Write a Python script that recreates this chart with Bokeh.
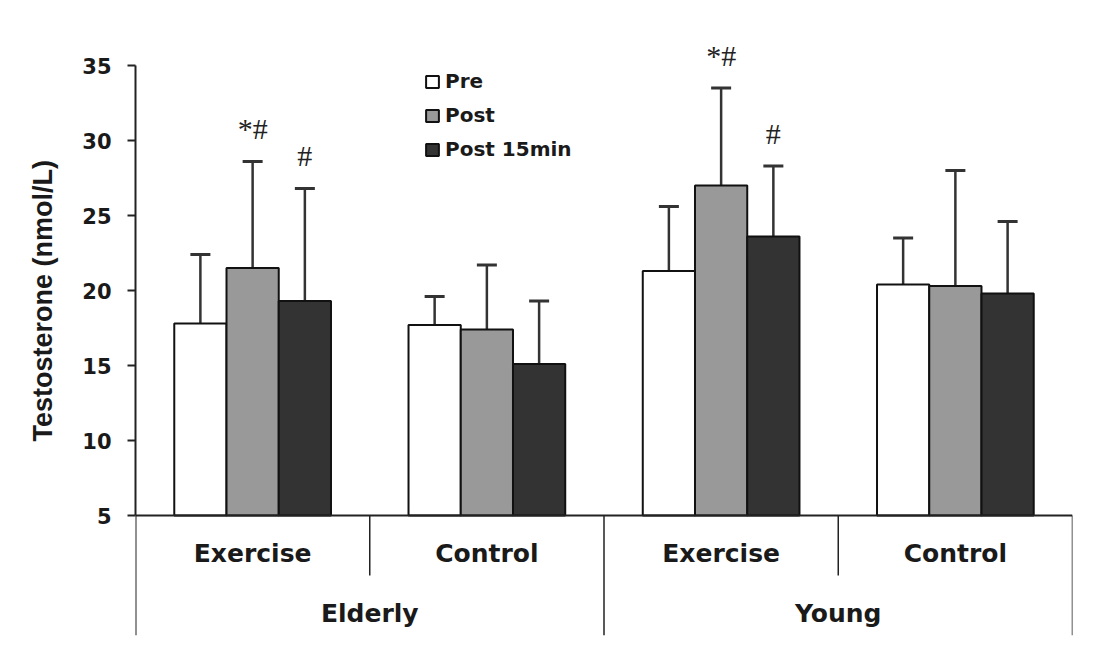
from bokeh.plotting import figure
from bokeh.models import (ColumnDataSource, FactorRange, Range1d, FixedTicker,
                          Whisker, TeeHead, Legend, LegendItem, Title)
from bokeh.transform import dodge
from bokeh.core.properties import value
from bokeh.embed import file_html
from bokeh.resources import INLINE

# ---------------- data ----------------
ages = ["Elderly", "Elderly", "Young", "Young"]
conditions = ["Exercise", "Control", "Exercise", "Control"]
series_names = ["Pre", "Post", "Post 15min"]

pre_mean = [17.8, 17.7, 21.3, 20.4]
pre_sd = [4.6, 1.9, 4.3, 3.1]
post_mean = [21.5, 17.4, 27.0, 20.3]
post_sd = [7.1, 4.3, 6.5, 7.7]
post15_mean = [19.3, 15.1, 23.6, 19.8]
post15_sd = [7.5, 4.2, 4.7, 4.8]

pre_sig = ["", "", "", ""]
post_sig = ["*#", "", "*#", ""]
post15_sig = ["#", "", "#", ""]

y_ticks = [5, 10, 15, 20, 25, 30, 35]
age_labels = ["Elderly", "Young"]
y_title = "Testosterone (nmol/L)"

# ---------------- styles ----------------
fills = ["#ffffff", "#999999", "#333333"]
offsets = [-0.223, 0.0, 0.223]
bar_w = 0.223
BASE = 5
SUB_LABEL_Y = 2.5
TOP_LABEL_Y = -1.5
SUB_DIV_BOTTOM = 1.0
Y_MIN = -3
Y_MAX = 37
SIG_GAP = 2.2

groups = list(zip(ages, conditions))

p = figure(
    x_range=FactorRange(factors=groups, group_padding=0, factor_padding=0,
                        subgroup_padding=0, range_padding=0),
    y_range=Range1d(Y_MIN, Y_MAX),
    width=1092, height=648,
    output_backend="svg", toolbar_location=None, x_axis_location=None,
    min_border_left=135, min_border_right=20, min_border_top=35,
    min_border_bottom=13,
)
p.outline_line_color = None
p.grid.visible = False
p.background_fill_color = "white"

means = [pre_mean, post_mean, post15_mean]
sds = [pre_sd, post_sd, post15_sd]
sigs = [pre_sig, post_sig, post15_sig]

items = []
for name, m, s, sg, fc, off in zip(series_names, means, sds, sigs, fills, offsets):
    src = ColumnDataSource(dict(
        group=groups, mean=m,
        upper=[a + b for a, b in zip(m, s)],
        sig=sg,
        sig_y=[a + b + SIG_GAP for a, b in zip(m, s)],
    ))
    xd = dodge("group", off, range=p.x_range)
    r = p.vbar(x=xd, top="mean", bottom=BASE, width=bar_w, source=src,
               fill_color=fc, line_color="#111111", line_width=2)
    w = Whisker(source=src, base=xd, upper="upper", lower="mean",
                line_color="#333333", line_width=2.5, lower_head=None,
                upper_head=TeeHead(size=20, line_color="#333333", line_width=3))
    p.add_layout(w)
    p.text(x=xd, y="sig_y", text="sig", source=src,
           text_font=value("Liberation Serif"), text_font_size="30px",
           text_align="center", text_baseline="alphabetic", text_color="#222222")
    items.append(LegendItem(label=name, renderers=[r]))

# ---- category table below the axis ----
p.segment(x0=dodge("a", -0.5, range=p.x_range), x1=dodge("b", 0.5, range=p.x_range),
          y0=BASE, y1=BASE, line_color="#222222", line_width=2,
          source=ColumnDataSource(dict(a=[groups[0]], b=[groups[-1]])))
# left edge (continuation of the y axis)
p.segment(x0=dodge("g", -0.5, range=p.x_range), x1=dodge("g", -0.5, range=p.x_range),
          y0=BASE, y1=Y_MIN, line_color="#222222", line_width=2,
          source=ColumnDataSource(dict(g=[groups[0]])))
# between ages and right edge
p.segment(x0=dodge("g", 0.5, range=p.x_range), x1=dodge("g", 0.5, range=p.x_range),
          y0=BASE, y1=Y_MIN, line_color="#222222", line_width=1.5,
          source=ColumnDataSource(dict(g=[groups[1], groups[3]])))
# sub dividers
p.segment(x0=dodge("g", 0.5, range=p.x_range), x1=dodge("g", 0.5, range=p.x_range),
          y0=BASE, y1=SUB_DIV_BOTTOM, line_color="#222222", line_width=1.5,
          source=ColumnDataSource(dict(g=[groups[0], groups[2]])))

# labels
p.text(x="g", y=SUB_LABEL_Y, text="t",
       source=ColumnDataSource(dict(g=groups, t=conditions)),
       text_font=value("DejaVu Sans"), text_font_style="bold", text_font_size="25px",
       text_align="center", text_baseline="middle", text_color="#1a1a1a")
p.text(x="g", y=TOP_LABEL_Y, text="g",
       source=ColumnDataSource(dict(g=age_labels)),
       text_font=value("DejaVu Sans"), text_font_style="bold", text_font_size="25px",
       text_align="center", text_baseline="middle", text_color="#1a1a1a")

# ---- y axis ----
ax = p.yaxis[0]
ax.ticker = FixedTicker(ticks=y_ticks)
ax.bounds = (5, 35)
ax.major_label_text_font = "DejaVu Sans"
ax.major_label_text_font_style = "bold"
ax.major_label_text_font_size = "21px"
ax.major_label_text_color = "#1a1a1a"
ax.major_label_standoff = 16
ax.axis_line_width = 2
ax.axis_line_color = "#222222"
ax.major_tick_line_width = 2
ax.major_tick_line_color = "#222222"
ax.major_tick_out = 8
ax.major_tick_in = 0
ax.minor_tick_out = 0
ax.minor_tick_in = 0

# y title, centred on the 5-35 value span
ttl = Title(text=y_title, align="left", offset=194, standoff=44,
            text_font="Liberation Sans", text_font_style="bold",
            text_font_size="27px", text_color="#1a1a1a")
p.add_layout(ttl, "left")

# ---- legend ----
legend = Legend(items=items, location=(289, 474), orientation="vertical",
                padding=0, margin=0, spacing=10,
                glyph_width=16, glyph_height=15, label_height=20,
                label_standoff=5,
                label_text_font="DejaVu Sans", label_text_font_style="bold",
                label_text_font_size="20px", label_text_color="#1a1a1a",
                border_line_color=None, background_fill_alpha=0)
p.add_layout(legend)

open("out.html", "w").write(file_html(p, INLINE))
